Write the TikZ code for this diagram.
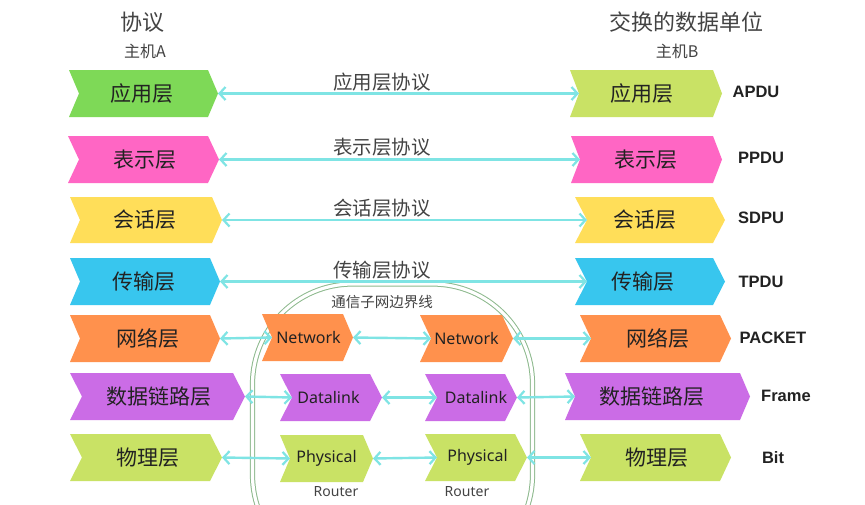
\documentclass[tikz,border=0pt]{standalone}
\usepackage{fontspec}
\setmainfont{Noto Sans CJK SC}
\newfontfamily\lat{Noto Sans}
\newfontfamily\unitfont{Liberation Sans}
\usetikzlibrary{arrows.meta}
\definecolor{cgreen}{HTML}{7ED957}
\definecolor{clime}{HTML}{C9E265}
\definecolor{cpink}{HTML}{FF66C4}
\definecolor{cyellow}{HTML}{FFDE59}
\definecolor{cblue}{HTML}{38C6EE}
\definecolor{corange}{HTML}{FF914D}
\definecolor{cpurple}{HTML}{CB6CE6}
\definecolor{arrc}{HTML}{7FE4E4}
\definecolor{bnd}{HTML}{8DB98D}
\definecolor{txt}{HTML}{222222}
\tikzset{
  cjk/.style={text=txt, inner sep=0pt, font=\fontsize{21}{21}\selectfont},
  latl/.style={text=txt, inner sep=0pt, font=\lat\fontsize{16}{16}\selectfont},
  unit/.style={text=txt, inner sep=0pt, font=\unitfont\bfseries\fontsize{16.5}{16.5}\selectfont},
  proto/.style={text=txt!85, inner sep=0pt, font=\fontsize{19.5}{19.5}\selectfont},
  ttl/.style={text=txt!85, inner sep=0pt, font=\fontsize{22}{22}\selectfont},
  host/.style={text=txt!85, inner sep=0pt, font=\fontsize{16}{16}\selectfont},
  small/.style={text=txt!85, inner sep=0pt, font=\fontsize{14.5}{14.5}\selectfont},
  rtr/.style={text=txt!85, inner sep=0pt, font=\lat\fontsize{14}{14}\selectfont},
  arr/.style={draw=arrc, line width=2.4pt,
    {Straight Barb[length=6pt,width=13pt,line width=2.2pt]}-{Straight Barb[length=6pt,width=13pt,line width=2.2pt]}},
  bound/.style={draw=bnd, line width=1pt, double=white, double distance=3.2pt, rounded corners=100pt}
}
% name, xl, xr, xt, ytop, ybot, colour, text x
\newcommand\chevshape[8]{%
  \path[fill=#7] (#2,#5) -- (#3,#5) -- (#4,{(#5+#6)/2}) -- (#3,#6) -- (#2,#6)
     -- ({#2+#4-#3},{(#5+#6)/2}) -- cycle;
  \coordinate (#1-t) at (#4,{(#5+#6)/2});
  \coordinate (#1-n) at ({#2+#4-#3},{(#5+#6)/2});
  \coordinate (#1-c) at (#8,{(#5+#6)/2});
}
\begin{document}
\begin{tikzpicture}[x=1pt,y=-1pt]
\useasboundingbox (0,0) rectangle (865,504);
\clip (0,0) rectangle (865,504);
\fill[white] (0,0) rectangle (865,504);

% titles
\node[ttl] (t1) at (142,22) {协议};
\node[host] (h1) at (145,51) {主机A};
\node[ttl] (t2) at (686,22) {交换的数据单位};
\node[host] (h2) at (677,51) {主机B};

% boundary
\draw[bound] (252.5,284) rectangle (532.5,575);
\node[small] (bl) at (382,302) {通信子网边界线};

% left column
\chevshape{L1}{69}{208}{218}{70}{117}{cgreen}{142}
\chevshape{L2}{68}{208}{219}{136}{183}{cpink}{145}
\chevshape{L3}{70}{212}{222}{197}{243}{cyellow}{145}
\chevshape{L4}{70}{210}{220}{258}{305}{cblue}{144}
\chevshape{L5}{70}{210}{220}{315}{362}{corange}{148}
\chevshape{L6}{70}{233}{245}{373}{420}{cpurple}{159}
\chevshape{L7}{70}{210}{222}{434}{481}{clime}{148}
% right column
\chevshape{R1}{570}{713}{722}{70}{117}{clime}{642}
\chevshape{R2}{571}{713}{722}{136}{183}{cpink}{646}
\chevshape{R3}{575}{713}{725}{197}{243}{cyellow}{645}
\chevshape{R4}{575}{713}{725}{258}{305}{cblue}{643}
\chevshape{R5}{580}{720}{731}{315}{362}{corange}{658}
\chevshape{R6}{565}{740}{750}{373}{420}{cpurple}{652}
\chevshape{R7}{580}{720}{731}{434}{481}{clime}{657}
% routers
\chevshape{N1}{262}{343}{353}{314}{361}{corange}{308.5}
\chevshape{N2}{420}{502}{513}{315}{362}{corange}{466.5}
\chevshape{D1}{280}{370}{382}{374}{421}{cpurple}{328.5}
\chevshape{D2}{425}{505}{517}{374}{421}{cpurple}{476}
\chevshape{P1}{280}{363}{373}{435}{482}{clime}{326.5}
\chevshape{P2}{425}{515}{527}{434}{481}{clime}{477.5}

% texts in chevrons
\node[cjk] (l1) at (L1-c) {应用层};
\node[cjk] (l2) at (L2-c) {表示层};
\node[cjk] (l3) at (L3-c) {会话层};
\node[cjk] (l4) at (L4-c) {传输层};
\node[cjk] (l5) at (L5-c) {网络层};
\node[cjk] (l6) at (L6-c) {数据链路层};
\node[cjk] (l7) at (L7-c) {物理层};
\node[cjk] (r1) at (R1-c) {应用层};
\node[cjk] (r2) at (R2-c) {表示层};
\node[cjk] (r3) at (R3-c) {会话层};
\node[cjk] (r4) at (R4-c) {传输层};
\node[cjk] (r5) at (R5-c) {网络层};
\node[cjk] (r6) at (R6-c) {数据链路层};
\node[cjk] (r7) at (R7-c) {物理层};
\node[latl] (n1) at (N1-c) {Network};
\node[latl] (n2) at (N2-c) {Network};
\node[latl] (d1) at (D1-c) {Datalink};
\node[latl] (d2) at (D2-c) {Datalink};
\node[latl] (p1) at (P1-c) {Physical};
\node[latl] (p2) at (P2-c) {Physical};
\node[rtr] (ro1) at (336,492) {Router};
\node[rtr] (ro2) at (467,492) {Router};

% data units
\node[unit] (u1) at (756,92) {APDU};
\node[unit] (u2) at (761,158) {PPDU};
\node[unit] (u3) at (761,218) {SDPU};
\node[unit] (u4) at (761,282) {TPDU};
\node[unit] (u5) at (773,338) {PACKET};
\node[unit] (u6) at (786,396) {Frame};
\node[unit] (u7) at (773,458) {Bit};

% protocol labels
\node[proto] (pr1) at (382,82) {应用层协议};
\node[proto] (pr2) at (382,147) {表示层协议};
\node[proto] (pr3) at (382,208) {会话层协议};
\node[proto] (pr4) at (382,270) {传输层协议};

% arrows
\draw[arr] (L1-t) -- (R1-n);
\draw[arr] (L2-t) -- (R2-n);
\draw[arr] (L3-t) -- (R3-n);
\draw[arr] (L4-t) -- (R4-n);
\draw[arr] (L5-t) -- (N1-n);
\draw[arr] (N1-t) -- (N2-n);
\draw[arr] (N2-t) -- (R5-n);
\draw[arr] (L6-t) -- (D1-n);
\draw[arr] (D1-t) -- (D2-n);
\draw[arr] (D2-t) -- (R6-n);
\draw[arr] (L7-t) -- (P1-n);
\draw[arr] (P1-t) -- (P2-n);
\draw[arr] (P2-t) -- (R7-n);
\end{tikzpicture}
\end{document}
